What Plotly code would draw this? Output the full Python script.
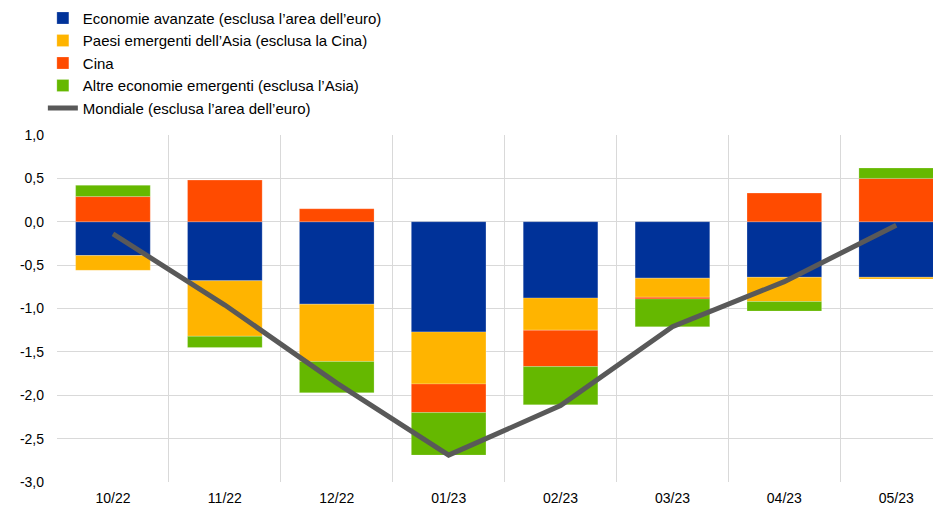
import plotly.graph_objects as go

categories = ["10/22", "11/22", "12/22", "01/23", "02/23", "03/23", "04/23", "05/23"]
avanzate = [-0.39, -0.68, -0.95, -1.27, -0.88, -0.65, -0.64, -0.64]
asia = [-0.17, -0.64, -0.66, -0.60, -0.37, -0.22, -0.28, -0.02]
cina = [0.29, 0.48, 0.15, -0.33, -0.42, -0.02, 0.33, 0.50]
altre = [0.13, -0.13, -0.36, -0.49, -0.44, -0.32, -0.11, 0.12]
mondiale = [-0.14, -0.96, -1.86, -2.69, -2.12, -1.21, -0.69, -0.04]

y_tick_values = [1.0, 0.5, 0.0, -0.5, -1.0, -1.5, -2.0, -2.5, -3.0]
y_tick_labels = ["1,0", "0,5", "0,0", "-0,5", "-1,0", "-1,5", "-2,0", "-2,5", "-3,0"]

series = [
    ("Economie avanzate (esclusa l’area dell’euro)", avanzate, "#003299"),
    ("Paesi emergenti dell’Asia (esclusa la Cina)", asia, "#FFB400"),
    ("Cina", cina, "#FF4B00"),
    ("Altre economie emergenti (esclusa l’Asia)", altre, "#65B800"),
]

fig = go.Figure()
for name, vals, col in series:
    fig.add_trace(go.Bar(
        x=categories, y=vals, name=name, width=0.667,
        marker=dict(color=col, line=dict(color="rgba(255,255,255,0.35)", width=0.6)),
    ))
fig.add_trace(go.Scatter(
    x=categories, y=mondiale, name="Mondiale (esclusa l’area dell’euro)",
    mode="lines", line=dict(color="#595959", width=5),
))

# page body has an 8px default margin, so the figure is drawn 8px smaller
fig.update_layout(
    width=933, height=501,
    barmode="relative",
    plot_bgcolor="white", paper_bgcolor="white",
    font=dict(family="Liberation Sans, Arial, sans-serif", size=14, color="#000000"),
    margin=dict(l=49, r=0, t=127, b=27, autoexpand=False),
    legend=dict(
        x=-0.016, xanchor="left", y=1.384, yanchor="top",
        font=dict(size=15, color="#000000"),
        bgcolor="rgba(0,0,0,0)", traceorder="normal",
    ),
    showlegend=True,
)
fig.update_xaxes(
    type="category", range=[-0.5, 7.4],
    tickson="boundaries", showgrid=True, gridcolor="#d9d9d9", gridwidth=1,
    showline=False, ticks="", ticklabelstandoff=6,
    tickfont=dict(size=14, color="#000000"),
)
fig.update_yaxes(
    range=[-3.0, 1.0], tickmode="array",
    tickvals=y_tick_values, ticktext=y_tick_labels,
    showgrid=True, gridcolor="#d9d9d9", gridwidth=1,
    zeroline=True, zerolinecolor="#d9d9d9", zerolinewidth=1,
    showline=False, ticks="", ticklabelstandoff=12,
    tickfont=dict(size=14, color="#000000"),
)

fig.write_html("out.html")
